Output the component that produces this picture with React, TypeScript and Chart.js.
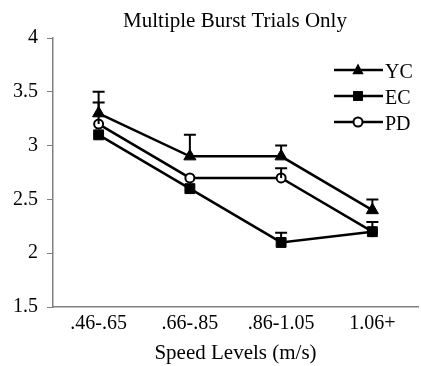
import React, { useEffect, useRef } from "react";
import { Chart, registerables } from "chart.js";
Chart.register(...registerables);

const TITLE = "Multiple Burst Trials Only";
const X_TITLE = "Speed Levels (m/s)";
const categories = [".46-.65", ".66-.85", ".86-1.05", "1.06+"];
const ycValues = [3.3, 2.9, 2.9, 2.4];
const ecValues = [3.1, 2.6, 2.1, 2.2];
const pdValues = [3.2, 2.7, 2.7, 2.2];
const ycErrTop = [3.5, 3.1, 3.0, 2.5];
const ecErrTop = [null, null, 2.19, 2.29];
const pdErrTop = [3.4, null, 2.79, null];

const FONT = "'Liberation Serif', 'Times New Roman', serif";

const errorBarPlugin = {
  id: "errorBars",
  afterDatasetsDraw(chart: any) {
    const ctx = chart.ctx;
    const x = chart.scales.x;
    const y = chart.scales.y;
    const sets = [
      { v: ycValues, e: ycErrTop },
      { v: ecValues, e: ecErrTop },
      { v: pdValues, e: pdErrTop },
    ];
    ctx.save();
    ctx.strokeStyle = "#000";
    ctx.lineWidth = 2;
    sets.forEach((s) => {
      s.e.forEach((top: number | null, i: number) => {
        if (top == null) return;
        const px = x.getPixelForValue(i);
        const y0 = y.getPixelForValue(s.v[i]);
        const y1 = y.getPixelForValue(top);
        ctx.beginPath();
        ctx.moveTo(px, y0);
        ctx.lineTo(px, y1);
        ctx.moveTo(px - 6, y1);
        ctx.lineTo(px + 6, y1);
        ctx.stroke();
      });
    });
    ctx.restore();
  },
};

function drawMarker(ctx: CanvasRenderingContext2D, style: string, r: number, x: number, y: number, fill: string) {
  ctx.save();
  ctx.fillStyle = fill;
  ctx.strokeStyle = "#000";
  ctx.lineWidth = 2;
  ctx.beginPath();
  if (style === "triangle") {
    ctx.moveTo(x, y - r);
    ctx.lineTo(x + r * 0.866, y + r * 0.5 + 1);
    ctx.lineTo(x - r * 0.866, y + r * 0.5 + 1);
    ctx.closePath();
    ctx.fill();
  } else if (style === "rect") {
    const s = r / Math.SQRT2;
    ctx.rect(x - s, y - s, 2 * s, 2 * s);
    ctx.fill();
  } else {
    ctx.arc(x, y, r, 0, Math.PI * 2);
    ctx.fill();
    ctx.stroke();
  }
  ctx.restore();
}

const titleLegendPlugin = {
  id: "titleLegend",
  afterDraw(chart: any) {
    const ctx = chart.ctx;
    const ca = chart.chartArea;
    ctx.save();
    ctx.fillStyle = "#000";
    ctx.font = `21px ${FONT}`;
    ctx.textAlign = "center";
    ctx.textBaseline = "alphabetic";
    ctx.fillText(TITLE, 235, 27);
    const rows = [
      { label: "YC", style: "triangle", r: 6.5, fill: "#000", y: 70 },
      { label: "EC", style: "rect", r: 7, fill: "#000", y: 96 },
      { label: "PD", style: "circle", r: 4.5, fill: "#fff", y: 122 },
    ];
    ctx.font = `20px ${FONT}`;
    ctx.textAlign = "left";
    rows.forEach((row) => {
      ctx.strokeStyle = "#000";
      ctx.lineWidth = 2.5;
      ctx.beginPath();
      ctx.moveTo(334, row.y);
      ctx.lineTo(383, row.y);
      ctx.stroke();
      drawMarker(ctx, row.style, row.r, 358, row.y, row.fill);
      ctx.fillStyle = "#000";
      ctx.fillText(row.label, 385, row.y + 8);
    });
    ctx.restore();
  },
};

export default function App() {
  const ref = useRef<HTMLCanvasElement>(null);
  useEffect(() => {
    if (!ref.current) return;
    const common = { borderColor: "#000", borderWidth: 2.5, pointBorderColor: "#000", tension: 0 };
    const chart = new Chart(ref.current, {
      type: "line",
      data: {
        labels: categories,
        datasets: [
          { ...common, label: "YC", data: ycValues, pointStyle: "triangle", pointRadius: 7, pointBackgroundColor: "#000", pointBorderWidth: 1 },
          { ...common, label: "EC", data: ecValues, pointStyle: "rect", pointRadius: 7, pointBackgroundColor: "#000", pointBorderWidth: 1 },
          { ...common, label: "PD", data: pdValues, pointStyle: "circle", pointRadius: 4.5, pointBackgroundColor: "#fff", pointBorderWidth: 2 },
        ],
      },
      options: {
        animation: false,
        responsive: false,
        layout: { padding: { top: 38, left: 0, right: 0, bottom: 0 } },
        plugins: { legend: { display: false }, title: { display: false }, tooltip: { enabled: false } },
        scales: {
          x: {
            offset: true,
            grid: { display: false, drawTicks: false },
            border: { display: true, color: "#808080", width: 1.5 },
            ticks: { color: "#000", font: { family: FONT, size: 20 }, padding: 5, maxRotation: 0 },
            title: { display: true, text: X_TITLE, color: "#000", font: { family: FONT, size: 21 }, padding: { top: 4, bottom: 0 } },
            afterFit: (s: any) => { s.height = 59; },
          },
          y: {
            min: 1.5,
            max: 4,
            ticks: { stepSize: 0.5, color: "#000", font: { family: FONT, size: 20 }, padding: 9, callback: (v: any) => String(Number(v)) },
            grid: { drawOnChartArea: false, drawTicks: true, tickLength: 6, color: "#808080" },
            border: { display: true, color: "#808080", width: 1.5 },
            afterFit: (s: any) => { s.width = 53; },
          },
        },
      },
      plugins: [errorBarPlugin, titleLegendPlugin],
    } as any);
    return () => chart.destroy();
  }, []);
  return (
    <div style={{ position: "absolute", left: 0, top: 0, width: 421, height: 366, overflow: "hidden", background: "#fff" }}>
      <canvas ref={ref} width={426} height={366} style={{ display: "block" }} />
    </div>
  );
}
